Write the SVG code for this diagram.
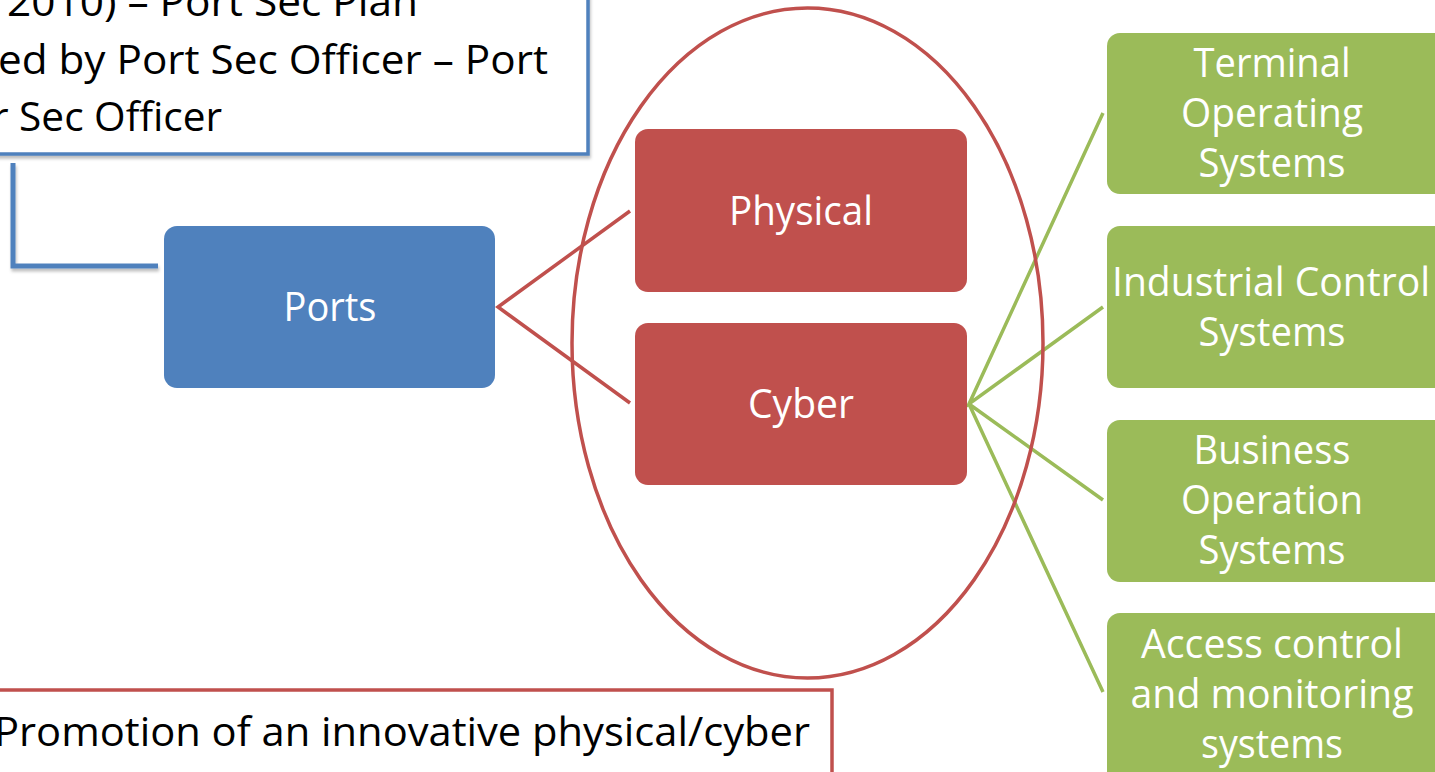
<svg xmlns="http://www.w3.org/2000/svg" width="1435" height="772" viewBox="0 0 1435 772">
<defs>
<filter id="sh" x="-5%" y="-5%" width="110%" height="120%">
<feDropShadow dx="1" dy="3" stdDeviation="1.5" flood-color="#000" flood-opacity="0.25"/>
</filter>
</defs>
<style>
.t{font-family:"Open Sans","Noto Sans","Liberation Sans",sans-serif;font-size:40px;text-anchor:middle;fill:#fff}
.b{font-family:"Open Sans","Noto Sans","Liberation Sans",sans-serif;font-size:40px;fill:#000}
.blue{fill:#4F81BD}
.red{fill:#C0504D}
.green{fill:#9BBB59}
.rl{stroke:#C0504D;stroke-width:3.5;fill:none}
.gl{stroke:#9BBB59;stroke-width:3.5;fill:none}
</style>
<rect width="1435" height="772" fill="#fff"/>

<g id="top-note">
<rect x="-20" y="-20" width="608" height="174" fill="#fff" stroke="#4F81BD" stroke-width="3.5" filter="url(#sh)"/>
<text class="b" x="7" y="16" textLength="411" lengthAdjust="spacingAndGlyphs">2010) – Port Sec Plan</text>
<text class="b" x="-2" y="74" textLength="550" lengthAdjust="spacingAndGlyphs">ed by Port Sec Officer – Port</text>
<text class="b" x="-8" y="131" textLength="230" lengthAdjust="spacingAndGlyphs">r Sec Officer</text>
</g>

<g id="bottom-note">
<rect x="-20" y="690" width="852" height="120" fill="#fff" stroke="#C0504D" stroke-width="3.5"/>
<text class="b" x="-6" y="746" textLength="816" lengthAdjust="spacingAndGlyphs">Promotion of an innovative physical/cyber</text>
</g>

<g id="connectors">
<path d="M13 163 V266 H158" stroke="#4F81BD" stroke-width="5" fill="none" filter="url(#sh)"/>
<path class="rl" d="M630 211 L498 307 L630 403"/>
<path class="gl" d="M1103 113 L969 404 L1103 307 M969 404 L1103 500 M969 404 L1103 692"/>
</g>

<g id="ellipse">
<ellipse cx="807.5" cy="343" rx="235.5" ry="335" fill="none" stroke="#C0504D" stroke-width="3.5"/>
</g>

<g id="ports">
<rect class="blue" x="164" y="226" width="331" height="162" rx="13"/>
<text class="t" x="330" y="321" textLength="93" lengthAdjust="spacingAndGlyphs">Ports</text>
</g>

<g id="physical">
<rect class="red" x="635" y="129" width="332" height="163" rx="13"/>
<text class="t" x="801" y="225" textLength="144" lengthAdjust="spacingAndGlyphs">Physical</text>
</g>

<g id="cyber">
<rect class="red" x="635" y="323" width="332" height="162" rx="13"/>
<text class="t" x="801" y="418" textLength="106" lengthAdjust="spacingAndGlyphs">Cyber</text>
</g>

<g id="terminal">
<rect class="green" x="1107" y="33" width="340" height="161" rx="13"/>
<text class="t" x="1272" y="77" textLength="157" lengthAdjust="spacingAndGlyphs">Terminal</text>
<text class="t" x="1272" y="127" textLength="182" lengthAdjust="spacingAndGlyphs">Operating</text>
<text class="t" x="1272" y="177" textLength="147" lengthAdjust="spacingAndGlyphs">Systems</text>
</g>

<g id="industrial">
<rect class="green" x="1107" y="226" width="340" height="162" rx="13"/>
<text class="t" x="1271" y="296" textLength="318" lengthAdjust="spacingAndGlyphs">Industrial Control</text>
<text class="t" x="1272" y="346" textLength="147" lengthAdjust="spacingAndGlyphs">Systems</text>
</g>

<g id="business">
<rect class="green" x="1107" y="420" width="340" height="162" rx="13"/>
<text class="t" x="1272" y="464" textLength="157" lengthAdjust="spacingAndGlyphs">Business</text>
<text class="t" x="1272" y="514" textLength="182" lengthAdjust="spacingAndGlyphs">Operation</text>
<text class="t" x="1272" y="564" textLength="147" lengthAdjust="spacingAndGlyphs">Systems</text>
</g>

<g id="access">
<rect class="green" x="1107" y="613" width="340" height="180" rx="13"/>
<text class="t" x="1272" y="658" textLength="262" lengthAdjust="spacingAndGlyphs">Access control</text>
<text class="t" x="1272" y="708" textLength="283" lengthAdjust="spacingAndGlyphs">and monitoring</text>
<text class="t" x="1272" y="758" textLength="142" lengthAdjust="spacingAndGlyphs">systems</text>
</g>
</svg>
